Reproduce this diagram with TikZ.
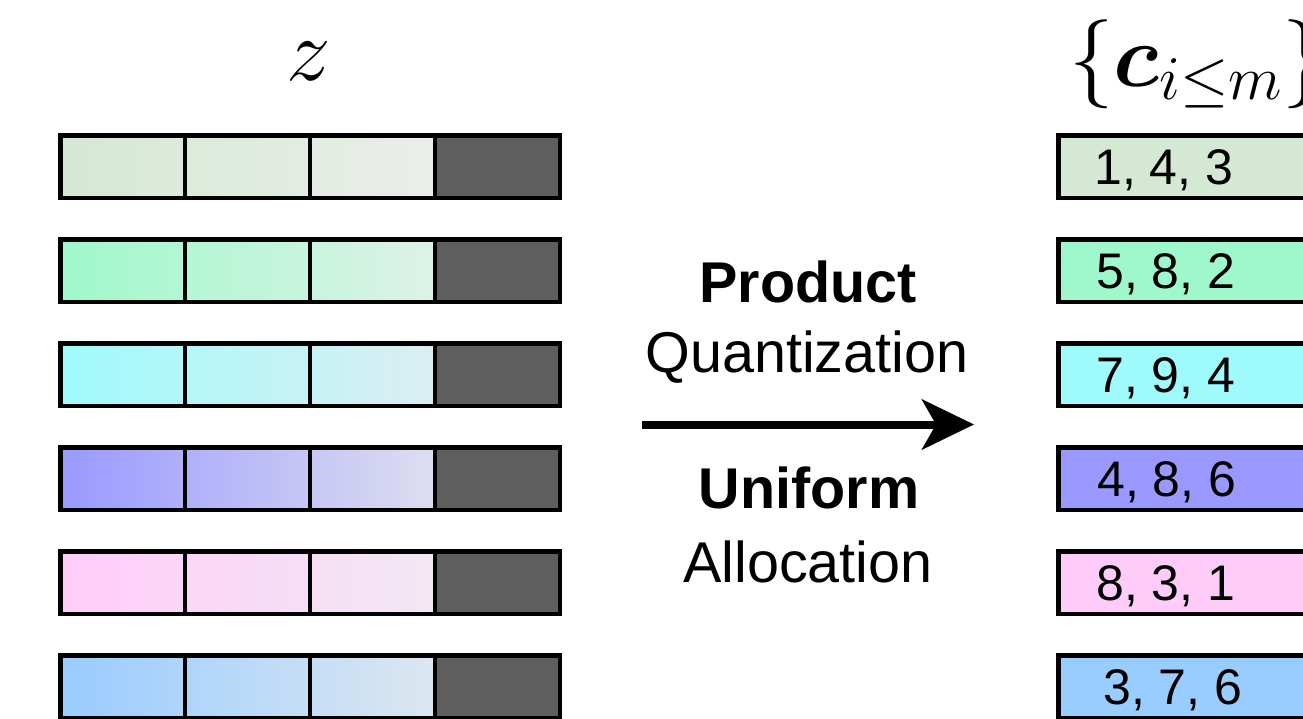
\RequirePackage{fix-cm}
\documentclass[tikz,border=0pt]{standalone}
\usepackage{amsmath}
\usepackage{fontspec}
\newfontfamily\lsans{Liberation Sans}
\usetikzlibrary{arrows.meta}

\definecolor{S1}{HTML}{D5E8D4}\definecolor{E1}{HTML}{EBEEEA}
\definecolor{S2}{HTML}{9FF8CB}\definecolor{E2}{HTML}{DEF2E8}
\definecolor{S3}{HTML}{9FFAFC}\definecolor{E3}{HTML}{DCEEF2}
\definecolor{S4}{HTML}{9999FF}\definecolor{E4}{HTML}{DEDEF0}
\definecolor{S5}{HTML}{FFCCFA}\definecolor{E5}{HTML}{F2E8F2}
\definecolor{S6}{HTML}{99CCFF}\definecolor{E6}{HTML}{DDE7F0}
\definecolor{darkcell}{HTML}{5E5E5E}

\begin{document}
\begin{tikzpicture}[x=1pt,y=-1pt,
  cellbox/.style={draw=black, line width=4.5pt, minimum width=124.875pt,
    minimum height=62.5pt, inner sep=0pt, outer sep=0pt, anchor=north west},
  digit/.style={font=\lsans\fontsize{50}{60}\selectfont, inner sep=0pt, anchor=base west},
  midtext/.style={font=\lsans\fontsize{57.5}{69}\selectfont, inner sep=0pt, anchor=base},
  midbold/.style={midtext, font=\lsans\bfseries\fontsize{57.5}{69}\selectfont},
  mathlabel/.style={font=\fontsize{89}{107}\selectfont, inner sep=0pt}]
\clip (0,0) rectangle (1303,718);
\useasboundingbox (0,0) rectangle (1303,718);

\node[mathlabel, anchor=base] (ztitle) at (309,80) {$z$};
\node[mathlabel, anchor=base west] (ctitle) at (1069,86) {$\{\boldsymbol{c}_{i\leq m}\}$};

\foreach \r/\top/\lab/\tx in {1/133/{1, 4, 3}/1094, 2/237/{5, 8, 2}/1096, 3/341/{7, 9, 4}/1096,
  4/445/{4, 8, 6}/1097, 5/549/{8, 3, 1}/1096, 6/653/{3, 7, 6}/1103} {
  \pgfmathsetmacro\yy{\top+2.25}
  \foreach \k in {0,1,2} {
    \pgfmathsetmacro\xx{60.25+\k*124.875}
    \pgfmathtruncatemacro\a{100-33*\k}
    \pgfmathtruncatemacro\b{67-33*\k}
    \node[cellbox, left color=S\r!\a!E\r, right color=S\r!\b!E\r] (z\r-\k) at (\xx,\yy) {};
  }
  \node[cellbox, fill=darkcell] (z\r-3) at (60.25+3*124.875,\yy) {};
  \node[cellbox, fill=S\r, minimum width=300pt] (c\r) at (1058.25,\yy) {};
  \node[digit] (t\r) at (\tx,\top+51.5) {\lab};
}

\node[midbold] (prod) at (808,302) {Product};
\node[midtext] (quant) at (807,372) {Quantization};
\node[midbold] (unif) at (809,508) {Uniform};
\node[midtext] (alloc) at (808,582) {Allocation};

\coordinate (aS) at (642,424.5);
\coordinate (aE) at (974,424.5);
\draw[line width=8pt, -{Stealth[length=52pt,width=50pt,inset=14pt]}] (aS) -- (aE);
\end{tikzpicture}
\end{document}
